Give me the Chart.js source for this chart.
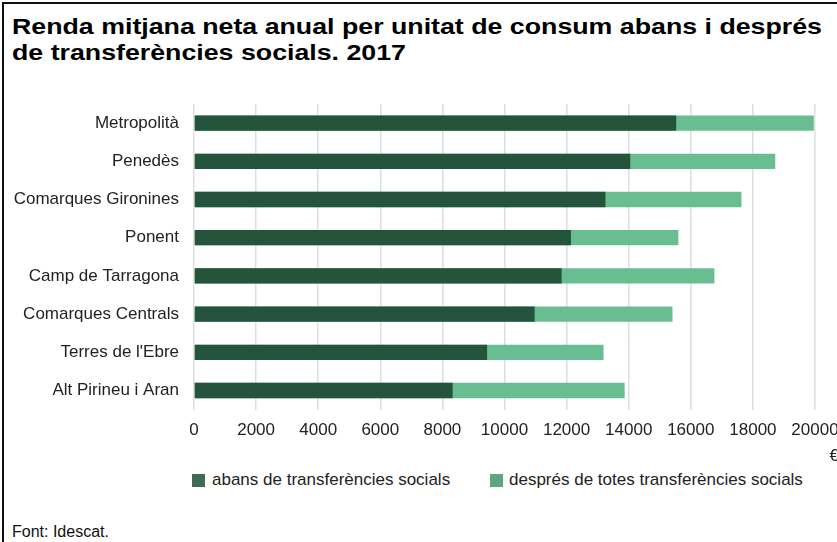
<!DOCTYPE html>
<html>
<head>
<meta charset="utf-8">
<script src="https://cdn.jsdelivr.net/npm/chart.js@4/dist/chart.umd.min.js"></script>
<style>
  html, body { margin: 0; padding: 0; background: #fff; width: 837px; height: 542px; overflow: hidden; }
  #frame { position: absolute; left: 2px; top: 2px; width: 900px; height: 600px; border-left: 2px solid #111; border-top: 2px solid #111; }
  #title { position: absolute; left: 12px; top: 14px; font: bold 22px "Liberation Sans", Arial, sans-serif; line-height: 26px; color: #000; white-space: nowrap; transform-origin: 0 0; }
  #chartwrap { position: absolute; left: 0; top: 90px; width: 837px; height: 380px; }
  #legend { position: absolute; top: 470px; left: 0; width: 837px; height: 20px; font: 17px "Liberation Sans", Arial, sans-serif; color: #222; }
  .lg { position: absolute; top: 0; line-height: 20px; white-space: nowrap; }
  #source { position: absolute; left: 12px; top: 523px; font: 16px "Liberation Sans", Arial, sans-serif; line-height: 18px; color: #111; }
</style>
</head>
<body>
<div id="frame"></div>
<div id="title">Renda mitjana neta anual per unitat de consum abans i després<br>de transferències socials. 2017</div>
<div id="chartwrap"><canvas id="c" width="837" height="380"></canvas></div>
<div id="legend"></div>
<div id="source">Font: Idescat.</div>
<script>
const categories = ["Metropolità", "Penedès", "Comarques Gironines", "Ponent", "Camp de Tarragona", "Comarques Centrals", "Terres de l'Ebre", "Alt Pirineu i Aran"];
const abans = [15530, 14050, 13250, 12140, 11840, 10970, 9440, 8330];
const despres = [19960, 18720, 17630, 15600, 16760, 15410, 13190, 13870];
const seriesNames = ["abans de transferències socials", "després de totes transferències socials"];
const xTicks = [0, 2000, 4000, 6000, 8000, 10000, 12000, 14000, 16000, 18000, 20000];
const unitLabel = "€";

const colDark = "#24543c";
const colLight = "#69be91";
const legendColors = ["#3f6b52", "#5ea680"];

// stretch the title to the reference width
const titleEl = document.getElementById('title');
const tw = titleEl.getBoundingClientRect().width;
titleEl.style.transform = `scaleX(${810 / tw})`;

// HTML legend
const legendPos = [{box: 192, text: 212}, {box: 490, text: 509}];
const lg = document.getElementById('legend');
seriesNames.forEach((n, i) => {
  const b = document.createElement('i');
  b.style.cssText = `position:absolute;left:${legendPos[i].box}px;top:4px;width:13px;height:13px;background:${legendColors[i]}`;
  lg.appendChild(b);
  const t = document.createElement('span');
  t.className = 'lg';
  t.style.left = legendPos[i].text + 'px';
  t.textContent = n;
  lg.appendChild(t);
});

const unitPlugin = {
  id: 'unit',
  afterDraw(chart) {
    const ctx = chart.ctx;
    ctx.save();
    ctx.font = '17px "Liberation Sans", Arial, sans-serif';
    ctx.fillStyle = '#222';
    ctx.textAlign = 'right';
    ctx.textBaseline = 'middle';
    ctx.fillText(unitLabel, chart.width + 2, 366);
    ctx.restore();
  }
};

new Chart(document.getElementById('c'), {
  type: 'bar',
  data: {
    labels: categories,
    datasets: [
      { label: seriesNames[0], data: abans, backgroundColor: colDark, borderWidth: 0, grouped: false, categoryPercentage: 1, barPercentage: 0.4 },
      { label: seriesNames[1], data: despres, backgroundColor: colLight, borderWidth: 0, grouped: false, categoryPercentage: 1, barPercentage: 0.4 }
    ]
  },
  options: {
    indexAxis: 'y',
    responsive: false,
    animation: false,
    devicePixelRatio: 1,
    layout: { padding: { top: 14, left: 0, right: 0, bottom: 18 } },
    plugins: { legend: { display: false }, tooltip: { enabled: false } },
    scales: {
      x: {
        min: 0, max: 20000,
        afterBuildTicks(scale) { scale.ticks = xTicks.map(v => ({ value: v })); },
        afterFit(scale) { scale.paddingRight = 22; scale.paddingLeft = 0; },
        ticks: { font: { family: '"Liberation Sans", Arial, sans-serif', size: 17 }, color: '#222', padding: 11, maxRotation: 0, autoSkip: false, callback: v => String(v) },
        grid: { color: '#dedede', lineWidth: 1.5, drawTicks: false },
        border: { display: false }
      },
      y: {
        afterFit(scale) { scale.width = 194; scale.paddingTop = 0; scale.paddingBottom = 0; },
        ticks: { font: { family: '"Liberation Sans", Arial, sans-serif', size: 17 }, color: '#222', padding: 7 },
        grid: { display: false },
        border: { display: false }
      }
    }
  },
  plugins: [unitPlugin]
});
</script>
</body>
</html>
